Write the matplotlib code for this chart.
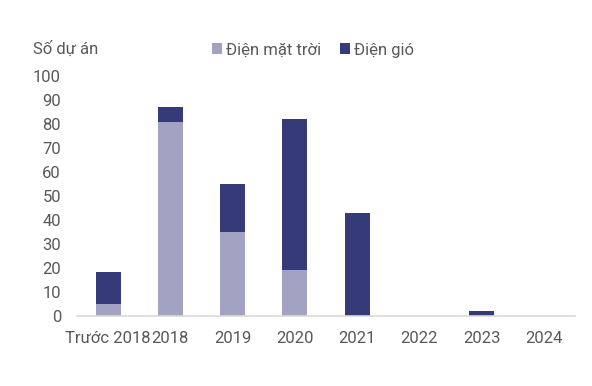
import matplotlib
matplotlib.use("Agg")
import matplotlib.pyplot as plt
import numpy as np

categories = ["Trước 2018", "2018", "2019", "2020", "2021", "2022", "2023", "2024"]
solar = [5, 81, 35, 19, 0, 0, 0, 0]
wind = [13, 6, 20, 63, 43, 0, 2, 0]
yticks = [0, 10, 20, 30, 40, 50, 60, 70, 80, 90, 100]

plt.rcParams['font.family'] = ['Roboto', 'DejaVu Sans']
W, H = 592, 386
fig = plt.figure(figsize=(W / 100, H / 100), dpi=100)
ax = fig.add_axes([77 / W, 1 - 315.5 / H, (575 - 77) / W, (315.5 - 76) / H])

x = np.arange(len(categories))
c_solar = "#A2A3C3"
c_wind = "#353A78"
ax.bar(x, solar, width=0.4, color=c_solar, label="Điện mặt trời", linewidth=0)
ax.bar(x, wind, width=0.4, bottom=solar, color=c_wind, label="Điện gió", linewidth=0)

ax.set_xlim(-0.5, len(categories) - 0.5)
ax.set_ylim(0, 100)
ax.set_yticks(yticks)
ax.set_xticks(x)
ax.set_xticklabels(categories)
ax.tick_params(axis='both', length=0, labelsize=12, colors="#595959")
ax.tick_params(axis='y', pad=11.5)
ax.tick_params(axis='x', pad=11)
for s in ["top", "right", "left"]:
    ax.spines[s].set_visible(False)
ax.spines["bottom"].set_color("#D9D9D9")
ax.spines["bottom"].set_linewidth(1.2)

fig.text(33 / W, 1 - 49 / H, "Số dự án", fontsize=12, color="#595959", va="center", ha="left")
leg = ax.legend(loc="center left", bbox_to_anchor=(212 / W, 1 - 50 / H), bbox_transform=fig.transFigure,
                ncol=2, frameon=False, fontsize=12, handlelength=0.6, handleheight=0.6,
                handletextpad=0.25, columnspacing=1.1, borderaxespad=0, borderpad=0)
for t in leg.get_texts():
    t.set_color("#595959")

fig.savefig("out.png", dpi=100)
